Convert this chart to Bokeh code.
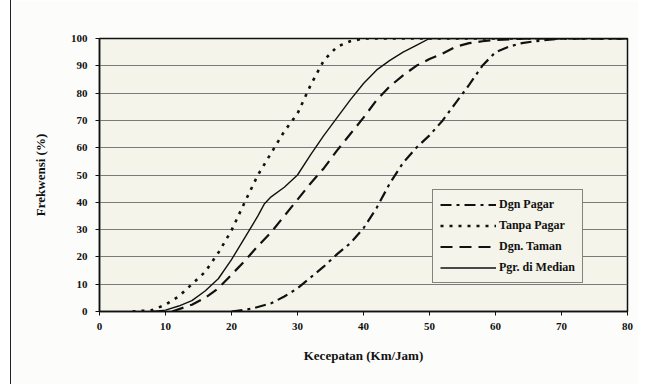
from bokeh.plotting import figure
from bokeh.models import Range1d, FixedTicker, Legend, LegendItem
from bokeh.embed import file_html
from bokeh.resources import INLINE

# Data (speed km/h, cumulative frequency %)
dgn_pagar_x = [20, 23, 26, 28, 30, 32, 34, 36, 38, 40, 42, 44, 46, 48, 50, 52, 54, 56, 58, 60, 62, 64, 66, 70, 80]
dgn_pagar_y = [0, 1, 3, 5.5, 8.5, 12.5, 16.5, 21, 25, 30.5, 38, 47, 54.5, 60, 64.5, 70, 76.5, 83, 90, 95, 97, 98.3, 99, 100, 100]

tanpa_pagar_x = [5, 8, 10, 12, 14, 16, 18, 20, 22, 24, 26, 28, 30, 32, 34, 36, 38, 40, 80]
tanpa_pagar_y = [0, 0.5, 2.5, 5.5, 10, 14.5, 21.5, 29.7, 40, 50, 58, 66, 72.5, 83, 92, 97, 99, 100, 100]

dgn_taman_x = [11, 14, 16, 18, 20, 22, 24, 26, 28, 30, 32, 34, 36, 38, 40, 42, 44, 46, 48, 50, 52, 54, 56, 58, 60, 65, 80]
dgn_taman_y = [0, 2.5, 5, 8.5, 13.5, 18.5, 24, 29, 35, 41, 47, 52.5, 59, 65, 71, 77.5, 82.5, 86.5, 90, 92.5, 94.5, 97, 98.3, 99, 99.5, 100, 100]

pgr_median_x = [8, 10, 12, 14, 16, 18, 20, 22, 24, 25, 26, 28, 30, 32, 34, 36, 38, 40, 42, 44, 46, 48, 50, 80]
pgr_median_y = [0, 0.5, 2, 4, 7.5, 12, 19, 27, 35, 39.5, 42, 45.5, 50, 57.5, 64.5, 71, 77.5, 83.5, 88.5, 92, 95, 97.5, 100, 100]

x_ticks = [0, 10, 20, 30, 40, 50, 60, 70, 80]
y_ticks = [0, 10, 20, 30, 40, 50, 60, 70, 80, 90, 100]

FONT = "Liberation Serif"

p = figure(width=628, height=384, output_backend="svg", toolbar_location=None,
           x_range=Range1d(0, 80), y_range=Range1d(0, 100),
           min_border_left=88, min_border_right=12, min_border_top=38, min_border_bottom=73)
p.styles = {"border-left": "1.5px solid #222222", "margin-left": "10px"}

p.background_fill_color = "#f4f4ea"
p.border_fill_color = "#fcfcfa"
p.outline_line_color = "#111111"
p.outline_line_width = 1.5

p.xgrid.grid_line_color = None
p.ygrid.grid_line_color = "#7a7a7a"
p.ygrid.grid_line_width = 1

p.xaxis.ticker = FixedTicker(ticks=x_ticks)
p.yaxis.ticker = FixedTicker(ticks=y_ticks)
for ax in (p.xaxis[0], p.yaxis[0]):
    ax.major_label_text_font = FONT
    ax.major_label_text_font_style = "bold"
    ax.major_label_text_font_size = "11px"
    ax.major_label_text_color = "#111111"
    ax.axis_label_text_font = FONT
    ax.axis_label_text_font_style = "bold"
    ax.axis_label_text_font_size = "13px"
    ax.axis_label_text_color = "#111111"
    ax.axis_line_color = "#111111"
    ax.axis_line_width = 1.5
    ax.major_tick_line_color = "#111111"
    ax.major_tick_in = 0
    ax.major_tick_out = 4
    ax.minor_tick_line_color = None

p.xaxis.axis_label = "Kecepatan (Km/Jam)"
p.yaxis.axis_label = "Frekwensi (%)"
p.xaxis.major_label_standoff = 7
p.xaxis.axis_label_standoff = 15
p.yaxis.major_label_standoff = 8
p.yaxis.axis_label_standoff = 20

r1 = p.line(dgn_pagar_x, dgn_pagar_y, line_color="#111111", line_width=2.2, line_dash="11 5 3 5")
r2 = p.line(tanpa_pagar_x, tanpa_pagar_y, line_color="#111111", line_width=2.6, line_dash="3 6")
r3 = p.line(dgn_taman_x, dgn_taman_y, line_color="#111111", line_width=2.2, line_dash="12 7")
r4 = p.line(pgr_median_x, pgr_median_y, line_color="#111111", line_width=1.4)

legend = Legend(items=[
    LegendItem(label="Dgn Pagar", renderers=[r1]),
    LegendItem(label="Tanpa Pagar", renderers=[r2]),
    LegendItem(label="Dgn. Taman", renderers=[r3]),
    LegendItem(label="Pgr. di Median", renderers=[r4]),
], location=(333, 28))
legend.background_fill_color = "#f4f4ea"
legend.background_fill_alpha = 1
legend.border_line_color = "#111111"
legend.border_line_width = 1
legend.label_text_font = FONT
legend.label_text_font_style = "bold"
legend.label_text_font_size = "12px"
legend.label_text_color = "#111111"
legend.glyph_width = 56
legend.glyph_height = 15
legend.label_height = 15
legend.label_standoff = 3
legend.spacing = 6
legend.padding = 7
legend.margin = 0
p.add_layout(legend)

open("out.html", "w").write(file_html(p, INLINE))
